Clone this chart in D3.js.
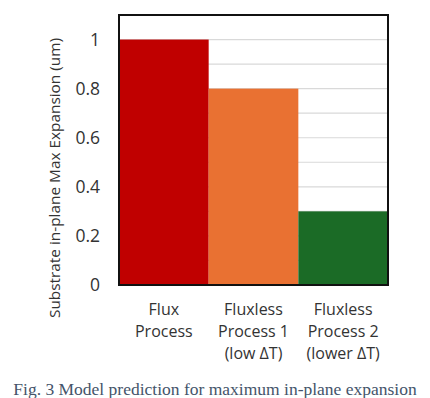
<!DOCTYPE html>
<html>
<head>
<meta charset="utf-8">
<script src="https://d3js.org/d3.v7.min.js"></script>
<style>
  body { margin: 0; background: #fff; }
  text { font-family: "Open Sans", "Noto Sans", sans-serif; fill: #333; }
  .caption { font-family: "Liberation Serif", "DejaVu Serif", serif; fill: #44546a; }
</style>
</head>
<body>
<div id="chart"></div>
<script>
// chart values
var categories = ["Flux Process", "Fluxless Process 1", "Fluxless Process 2"];
var catLines = [["Flux", "Process"], ["Fluxless", "Process 1", "(low \u0394T)"], ["Fluxless", "Process 2", "(lower \u0394T)"]];
var values = [1, 0.8, 0.3];
var colors = ["#c00000", "#e97132", "#1b6b26"];
var yTicks = [0, 0.2, 0.4, 0.6, 0.8, 1];
var gridTicks = [0.1, 0.2, 0.3, 0.4, 0.5, 0.6, 0.7, 0.8, 0.9, 1];

var W = 430, H = 398;
var mLeft = 119, mRight = 388, mTop = 15, mBottom = 285;

var svg = d3.select("#chart").append("svg").attr("width", W).attr("height", H);

var x = d3.scaleBand().domain(categories).range([mLeft, mRight]).padding(0);
var y = d3.scaleLinear().domain([0, 1.1]).range([mBottom, mTop]);

// gridlines
svg.append("g").selectAll("line").data(gridTicks).enter().append("line")
  .attr("x1", mLeft).attr("x2", mRight)
  .attr("y1", function(d) { return y(d); }).attr("y2", function(d) { return y(d); })
  .attr("stroke", "#d9d9d9").attr("stroke-width", 1.2);

// bars
svg.append("g").selectAll("rect").data(values).enter().append("rect")
  .attr("x", function(d, i) { return x(categories[i]); })
  .attr("width", x.bandwidth())
  .attr("y", function(d) { return y(d); })
  .attr("height", function(d) { return y(0) - y(d); })
  .attr("fill", function(d, i) { return colors[i]; });

// plot frame
svg.append("rect").attr("x", mLeft).attr("y", mTop)
  .attr("width", mRight - mLeft).attr("height", mBottom - mTop)
  .attr("fill", "none").attr("stroke", "#111").attr("stroke-width", 2);

// y axis labels
var yAxis = d3.axisLeft(y).tickValues(yTicks).tickSize(0).tickPadding(19)
  .tickFormat(function(d) { return d3.format("")(d); });
var gy = svg.append("g").attr("transform", "translate(" + mLeft + ",0)").call(yAxis);
gy.select(".domain").remove();
gy.selectAll("text").style("font-size", "17.5px").attr("fill", "#333")
  .style("font-family", "'Open Sans', 'Noto Sans', sans-serif");

// category labels
var cat = svg.append("g").selectAll("text").data(categories).enter().append("text")
  .attr("x", function(d) { return x(d) + x.bandwidth() / 2; })
  .attr("y", 315)
  .attr("text-anchor", "middle")
  .style("font-size", "16px");
cat.each(function(d, i) {
  var t = d3.select(this);
  catLines[i].forEach(function(line, j) {
    t.append("tspan").attr("x", x(d) + x.bandwidth() / 2).attr("dy", j === 0 ? 0 : 22).text(line);
  });
});

// y axis title
svg.append("text")
  .attr("transform", "translate(60,178) rotate(-90)")
  .attr("text-anchor", "middle")
  .style("font-size", "15px")
  .attr("textLength", 280)
  .attr("lengthAdjust", "spacingAndGlyphs")
  .text("Substrate in-plane Max Expansion (um)");

// caption
svg.append("text").attr("class", "caption")
  .attr("x", 215).attr("y", 395)
  .attr("text-anchor", "middle")
  .style("font-size", "17.5px")
  .text("Fig. 3 Model prediction for maximum in-plane expansion");
</script>
</body>
</html>
